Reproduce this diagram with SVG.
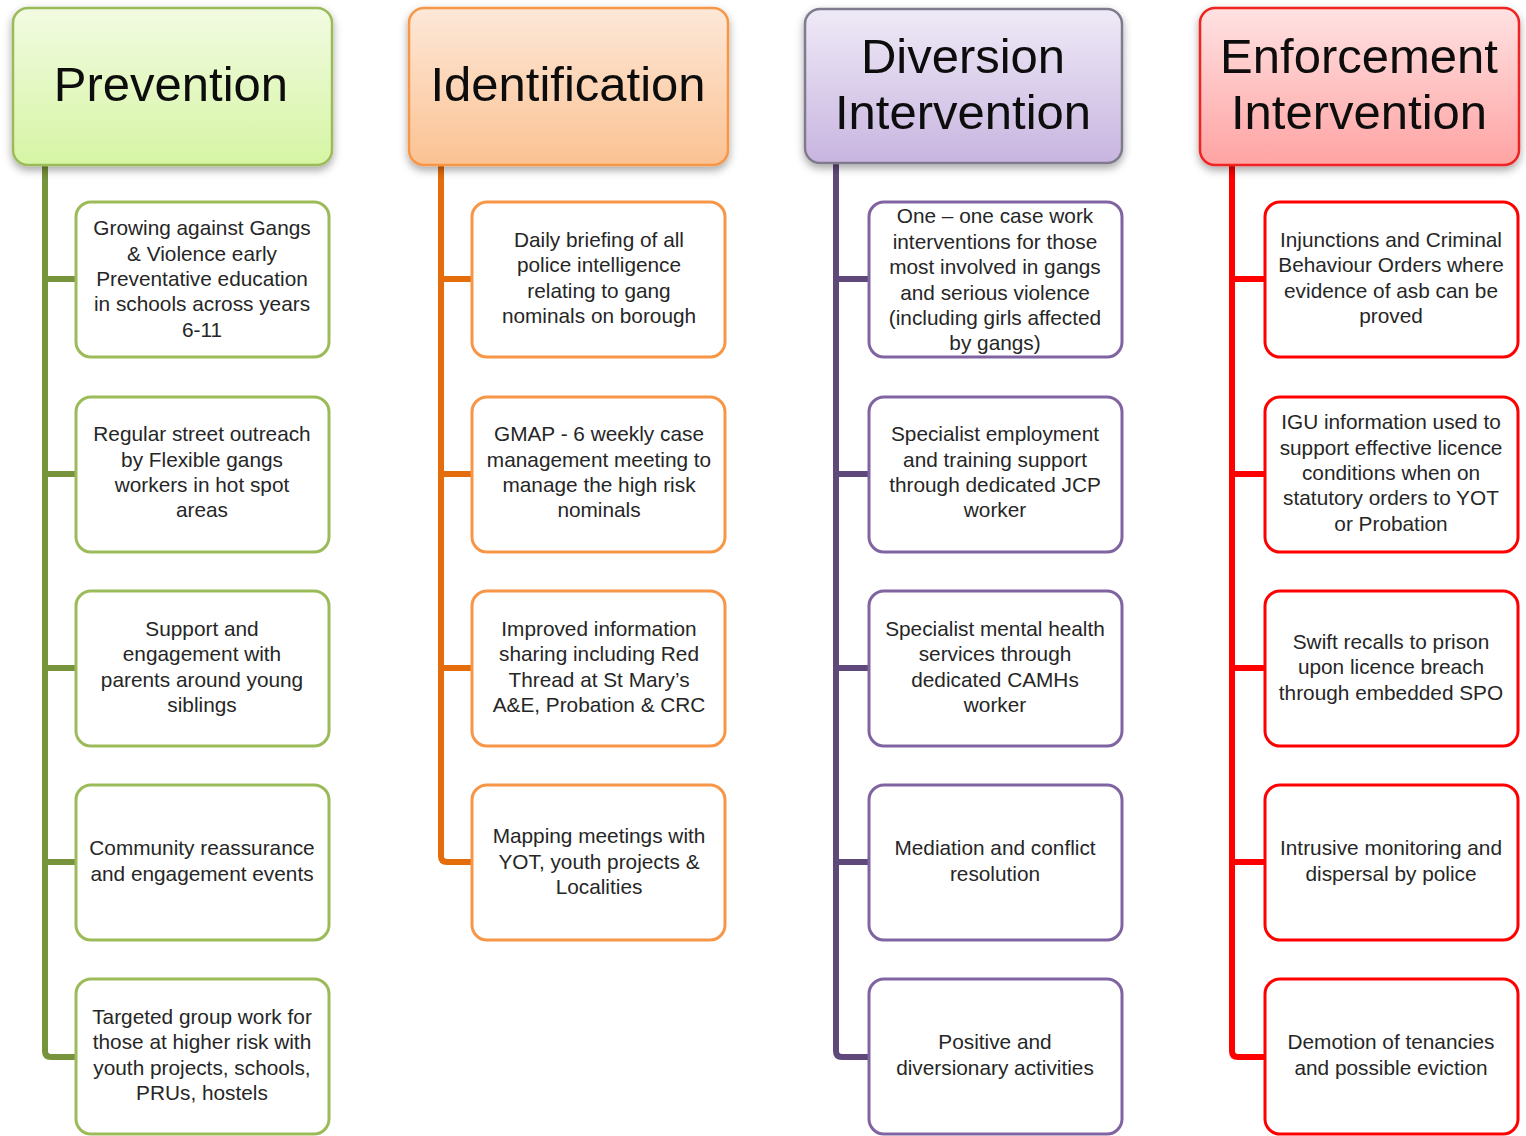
<svg xmlns="http://www.w3.org/2000/svg" width="1526" height="1136" viewBox="0 0 1526 1136">
<defs>
<linearGradient id="gP" x1="0" y1="0" x2="0" y2="1"><stop offset="0" stop-color="#f2fbe2"/><stop offset="1" stop-color="#d6f5a4"/></linearGradient>
<linearGradient id="gI" x1="0" y1="0" x2="0" y2="1"><stop offset="0" stop-color="#fde8d8"/><stop offset="1" stop-color="#fbc293"/></linearGradient>
<linearGradient id="gD" x1="0" y1="0" x2="0" y2="1"><stop offset="0" stop-color="#efeaf7"/><stop offset="1" stop-color="#c8b5e0"/></linearGradient>
<linearGradient id="gE" x1="0" y1="0" x2="0" y2="1"><stop offset="0" stop-color="#ffe2e2"/><stop offset="1" stop-color="#ffa3a3"/></linearGradient>
<filter id="sh" x="-10%" y="-10%" width="120%" height="130%"><feDropShadow dx="0" dy="4" stdDeviation="4" flood-color="#000" flood-opacity="0.35"/></filter>
</defs>
<style>
.hdr{stroke-width:2.5;filter:url(#sh)}
.ht{font-family:"Liberation Sans",Arial,sans-serif;font-size:49px;fill:#0d0d0d;text-anchor:middle}
.box{fill:#fff;stroke-width:3}
.bt{font-family:"Liberation Sans",Arial,sans-serif;font-size:20.8px;fill:#262626;text-anchor:middle}
.conn{fill:none;stroke-width:6;stroke-linejoin:round}
.p{stroke:#9bbb59}.i{stroke:#f79646}.d{stroke:#8064a2}.e{stroke:#ff0000}
</style>
<g id="connectors">
<path class="conn" stroke="#77933c" d="M45,165 V1051 Q45,1057 51,1057 H75 M45,279 H75 M45,474 H75 M45,668 H75 M45,862 H75"/>
<path class="conn" stroke="#e46c0a" d="M441,165 V856 Q441,862 447,862 H472 M441,279 H472 M441,474 H472 M441,668 H472"/>
<path class="conn" stroke="#5f497a" d="M836,163 V1051 Q836,1057 842,1057 H868 M836,279 H868 M836,474 H868 M836,668 H868 M836,862 H868"/>
<path class="conn" stroke="#ff0000" d="M1232,165 V1051 Q1232,1057 1238,1057 H1264 M1232,279 H1264 M1232,474 H1264 M1232,668 H1264 M1232,862 H1264"/>
</g>
<g id="prevention">
<rect class="hdr" x="13" y="8" width="319" height="157" rx="15" fill="url(#gP)" stroke="#9bbb59"/>
<text class="ht" x="171" y="101">Prevention</text>
</g>
<g id="identification">
<rect class="hdr" x="409" y="8" width="319" height="157" rx="15" fill="url(#gI)" stroke="#f79646"/>
<text class="ht" x="568" y="101">Identification</text>
</g>
<g id="diversion">
<rect class="hdr" x="805" y="9" width="317" height="154" rx="15" fill="url(#gD)" stroke="#7f7a8c"/>
<text class="ht" x="963" y="73">Diversion</text>
<text class="ht" x="963" y="129">Intervention</text>
</g>
<g id="enforcement">
<rect class="hdr" x="1200" y="8" width="319" height="157" rx="15" fill="url(#gE)" stroke="#f02020"/>
<text class="ht" x="1359" y="73">Enforcement</text>
<text class="ht" x="1359" y="129">Intervention</text>
</g>

<g id="p1"><rect class="box p" x="76" y="202" width="253" height="155" rx="15"/>
<text class="bt" x="202" y="235">Growing against Gangs</text><text class="bt" x="202" y="261">&amp; Violence early</text><text class="bt" x="202" y="286">Preventative education</text><text class="bt" x="202" y="311">in schools across years</text><text class="bt" x="202" y="337">6-11</text></g>
<g id="p2"><rect class="box p" x="76" y="397" width="253" height="155" rx="15"/>
<text class="bt" x="202" y="441">Regular street outreach</text><text class="bt" x="202" y="467">by Flexible gangs</text><text class="bt" x="202" y="492">workers in hot spot</text><text class="bt" x="202" y="517">areas</text></g>
<g id="p3"><rect class="box p" x="76" y="591" width="253" height="155" rx="15"/>
<text class="bt" x="202" y="636">Support and</text><text class="bt" x="202" y="661">engagement with</text><text class="bt" x="202" y="687">parents around young</text><text class="bt" x="202" y="712">siblings</text></g>
<g id="p4"><rect class="box p" x="76" y="785" width="253" height="155" rx="15"/>
<text class="bt" x="202" y="855">Community reassurance</text><text class="bt" x="202" y="881">and engagement events</text></g>
<g id="p5"><rect class="box p" x="76" y="979" width="253" height="155" rx="15"/>
<text class="bt" x="202" y="1024">Targeted group work for</text><text class="bt" x="202" y="1049">those at higher risk with</text><text class="bt" x="202" y="1075">youth projects, schools,</text><text class="bt" x="202" y="1100">PRUs, hostels</text></g>

<g id="i1"><rect class="box i" x="472" y="202" width="253" height="155" rx="15"/>
<text class="bt" x="599" y="247">Daily briefing of all</text><text class="bt" x="599" y="272">police intelligence</text><text class="bt" x="599" y="298">relating to gang</text><text class="bt" x="599" y="323">nominals on borough</text></g>
<g id="i2"><rect class="box i" x="472" y="397" width="253" height="155" rx="15"/>
<text class="bt" x="599" y="441">GMAP - 6 weekly case</text><text class="bt" x="599" y="467">management meeting to</text><text class="bt" x="599" y="492">manage the high risk</text><text class="bt" x="599" y="517">nominals</text></g>
<g id="i3"><rect class="box i" x="472" y="591" width="253" height="155" rx="15"/>
<text class="bt" x="599" y="636">Improved information</text><text class="bt" x="599" y="661">sharing including Red</text><text class="bt" x="599" y="687">Thread at St Mary’s</text><text class="bt" x="599" y="712">A&amp;E, Probation &amp; CRC</text></g>
<g id="i4"><rect class="box i" x="472" y="785" width="253" height="155" rx="15"/>
<text class="bt" x="599" y="843">Mapping meetings with</text><text class="bt" x="599" y="869">YOT, youth projects &amp;</text><text class="bt" x="599" y="894">Localities</text></g>

<g id="d1"><rect class="box d" x="869" y="202" width="253" height="155" rx="15"/>
<text class="bt" x="995" y="223">One – one case work</text><text class="bt" x="995" y="249">interventions for those</text><text class="bt" x="995" y="274">most involved in gangs</text><text class="bt" x="995" y="300">and serious violence</text><text class="bt" x="995" y="325">(including girls affected</text><text class="bt" x="995" y="350">by gangs)</text></g>
<g id="d2"><rect class="box d" x="869" y="397" width="253" height="155" rx="15"/>
<text class="bt" x="995" y="441">Specialist employment</text><text class="bt" x="995" y="467">and training support</text><text class="bt" x="995" y="492">through dedicated JCP</text><text class="bt" x="995" y="517">worker</text></g>
<g id="d3"><rect class="box d" x="869" y="591" width="253" height="155" rx="15"/>
<text class="bt" x="995" y="636">Specialist mental health</text><text class="bt" x="995" y="661">services through</text><text class="bt" x="995" y="687">dedicated CAMHs</text><text class="bt" x="995" y="712">worker</text></g>
<g id="d4"><rect class="box d" x="869" y="785" width="253" height="155" rx="15"/>
<text class="bt" x="995" y="855">Mediation and conflict</text><text class="bt" x="995" y="881">resolution</text></g>
<g id="d5"><rect class="box d" x="869" y="979" width="253" height="155" rx="15"/>
<text class="bt" x="995" y="1049">Positive and</text><text class="bt" x="995" y="1075">diversionary activities</text></g>

<g id="e1"><rect class="box e" x="1265" y="202" width="253" height="155" rx="15"/>
<text class="bt" x="1391" y="247">Injunctions and Criminal</text><text class="bt" x="1391" y="272">Behaviour Orders where</text><text class="bt" x="1391" y="298">evidence of asb can be</text><text class="bt" x="1391" y="323">proved</text></g>
<g id="e2"><rect class="box e" x="1265" y="397" width="253" height="155" rx="15"/>
<text class="bt" x="1391" y="429">IGU information used to</text><text class="bt" x="1391" y="455">support effective licence</text><text class="bt" x="1391" y="480">conditions when on</text><text class="bt" x="1391" y="505">statutory orders to YOT</text><text class="bt" x="1391" y="531">or Probation</text></g>
<g id="e3"><rect class="box e" x="1265" y="591" width="253" height="155" rx="15"/>
<text class="bt" x="1391" y="649">Swift recalls to prison</text><text class="bt" x="1391" y="674">upon licence breach</text><text class="bt" x="1391" y="700">through embedded SPO</text></g>
<g id="e4"><rect class="box e" x="1265" y="785" width="253" height="155" rx="15"/>
<text class="bt" x="1391" y="855">Intrusive monitoring and</text><text class="bt" x="1391" y="881">dispersal by police</text></g>
<g id="e5"><rect class="box e" x="1265" y="979" width="253" height="155" rx="15"/>
<text class="bt" x="1391" y="1049">Demotion of tenancies</text><text class="bt" x="1391" y="1075">and possible eviction</text></g>
</svg>
